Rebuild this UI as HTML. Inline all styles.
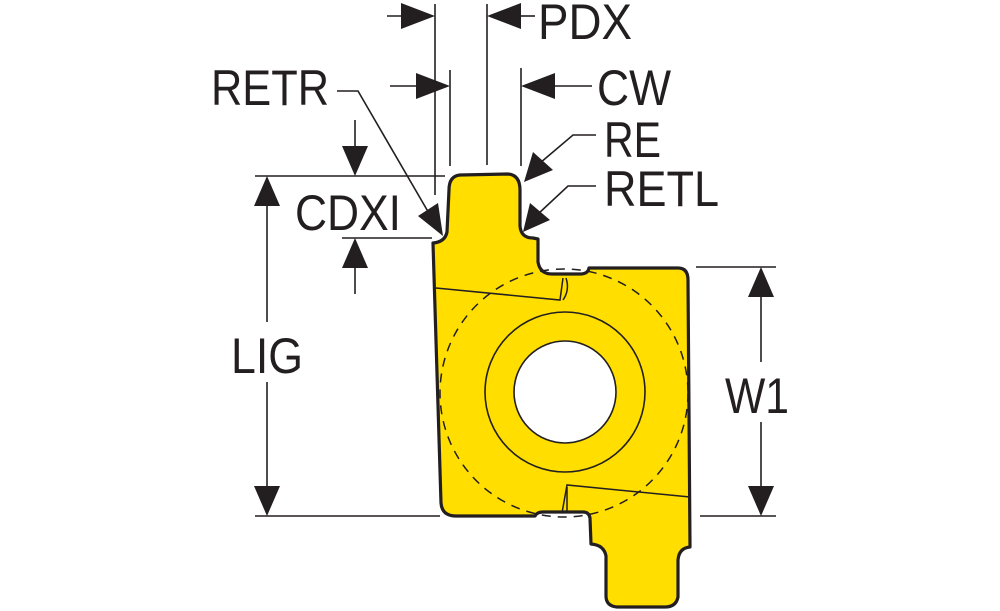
<!DOCTYPE html>
<html><head><meta charset="utf-8"><style>
html,body{margin:0;padding:0;background:#fff;width:1000px;height:611px;overflow:hidden}
text{font-family:"Liberation Sans",sans-serif;fill:#231f20}
</style></head><body>
<svg width="1000" height="611" viewBox="0 0 1000 611" xmlns="http://www.w3.org/2000/svg">
<defs>
<marker id="a" viewBox="0 0 10 10" refX="10" refY="5" markerWidth="10" markerHeight="10" markerUnits="userSpaceOnUse" orient="auto"></marker>
</defs>
<g stroke="#231f20" stroke-width="1.6" fill="none">
<!-- PDX -->
<line x1="435" y1="4" x2="435" y2="195"/>
<line x1="487" y1="4" x2="487" y2="165"/>
<line x1="387" y1="16" x2="405" y2="16"/>
<line x1="520" y1="16" x2="535" y2="16"/>
<!-- CW -->
<line x1="450" y1="70" x2="450" y2="166"/>
<line x1="521" y1="68" x2="521" y2="166"/>
<line x1="390" y1="86" x2="418" y2="86"/>
<line x1="555" y1="86" x2="592" y2="86"/>
<!-- RETR leader -->
<polyline points="337,91 358,91 430,215"/>
<!-- RE leader -->
<polyline points="596,135 573,135 540,163"/>
<!-- RETL leader -->
<polyline points="596,186 568,186 538,214"/>
<!-- CDXI -->
<line x1="255" y1="176" x2="445" y2="176"/>
<line x1="342" y1="238" x2="432" y2="238"/>
<line x1="355" y1="120" x2="355" y2="150"/>
<line x1="355" y1="265" x2="355" y2="294"/>
<!-- LIG -->
<line x1="267" y1="200" x2="267" y2="322"/>
<line x1="267" y1="382" x2="267" y2="490"/>
<line x1="255" y1="516" x2="440" y2="516"/>
<!-- W1 -->
<line x1="696" y1="267" x2="776" y2="267"/>
<line x1="700" y1="516" x2="776" y2="516"/>
<line x1="761" y1="290" x2="761" y2="362"/>
<line x1="761" y1="422" x2="761" y2="492"/>
</g>
<g fill="#231f20">
<polygon points="435,16 401,3 401,29"/>
<polygon points="487,16 521,3 521,29"/>
<polygon points="450,86 416,73 416,99"/>
<polygon points="521,86 555,73 555,99"/>
<polygon points="443,236 418,216 438,203"/>
<polygon points="524,182 533,152 553,170"/>
<polygon points="523,232 530,203 550,220"/>
<polygon points="355,176 342,146 368,146"/>
<polygon points="355,238 342,268 368,268"/>
<polygon points="267,176 254,206 280,206"/>
<polygon points="267,516 254,486 280,486"/>
<polygon points="761,267 748,297 774,297"/>
<polygon points="761,516 748,486 774,486"/>
</g>
<!-- insert body -->
<path d="M460,175 L508,174 Q520,175 520,190 L520,226 Q521,238 533,238 L538,239 L538,262 Q540,274 552,274 L580,274 Q588,274 589,268 L678,268 Q688,268 688,280 L690,547 Q679,548 678,560 L678,597 Q676,607 665,607 L617,607 Q606,606 606,596 L606,556 Q604,545 591,544 L590,518 Q589,512 583,512 L543,512 Q537,512 535,516 L456,516 Q442,516 441,503 L433,243 Q445,242 447,232 L449,190 Q449,176 460,175 Z" fill="#ffde00" stroke="#231f20" stroke-width="3.2" stroke-linejoin="round"/>
<circle cx="564" cy="393" r="124" fill="none" stroke="#231f20" stroke-width="1.5" stroke-dasharray="9,7"/>
<circle cx="565" cy="392" r="80" fill="none" stroke="#231f20" stroke-width="1.6"/>
<circle cx="565" cy="392" r="51" fill="#fff" stroke="#231f20" stroke-width="1.6"/>
<g stroke="#231f20" stroke-width="1.5" fill="none">
<polyline points="436,288 560,300 563,278"/>
<path d="M566,278 Q570,290 563,300"/>
<polyline points="690,497 567,485 562,513"/>
<line x1="567" y1="487" x2="567" y2="513"/>
<path d="M436,285 L436,285"/>
</g>
<g font-size="50">
<text x="538" y="39" textLength="94" lengthAdjust="spacingAndGlyphs">PDX</text>
<text x="597" y="105" textLength="74" lengthAdjust="spacingAndGlyphs">CW</text>
<text x="211" y="105" textLength="118" lengthAdjust="spacingAndGlyphs">RETR</text>
<text x="604" y="157" textLength="57" lengthAdjust="spacingAndGlyphs">RE</text>
<text x="604" y="206" textLength="115" lengthAdjust="spacingAndGlyphs">RETL</text>
<text x="295" y="230" textLength="106" lengthAdjust="spacingAndGlyphs">CDXI</text>
<text x="231" y="373" textLength="72" lengthAdjust="spacingAndGlyphs">LIG</text>
<text x="725" y="413" textLength="64" lengthAdjust="spacingAndGlyphs">W1</text>
</g>
</svg>
</body></html>
